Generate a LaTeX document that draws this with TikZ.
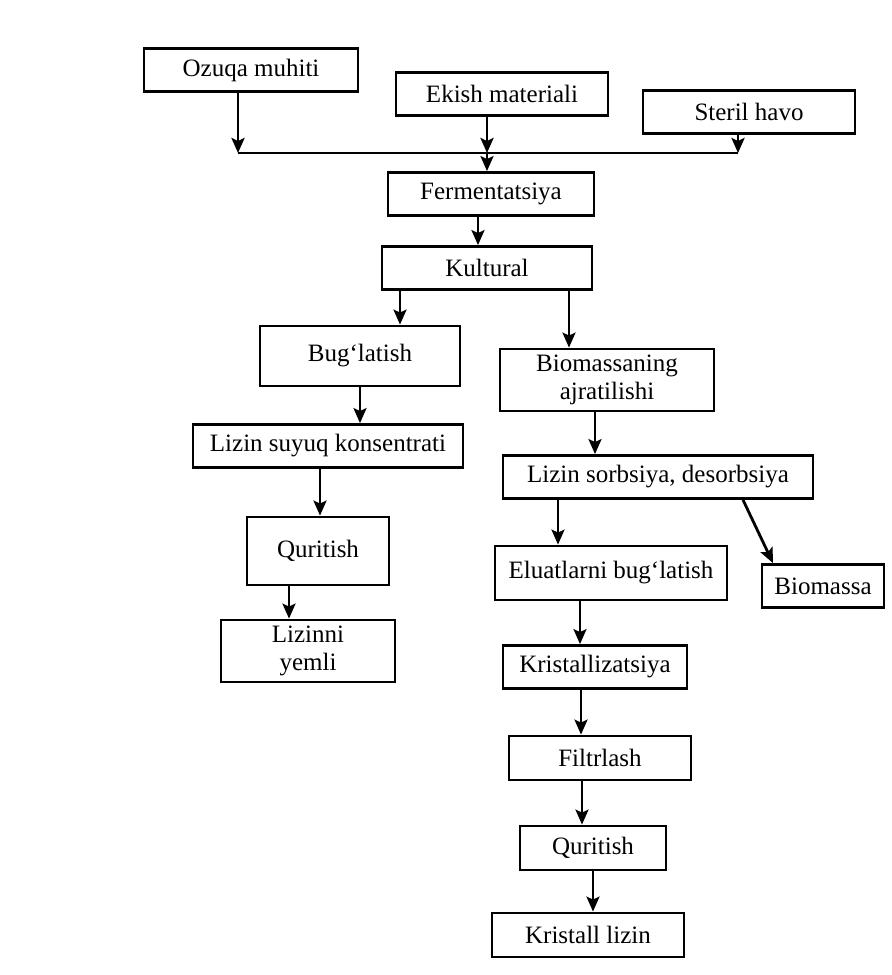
\documentclass[tikz,border=0pt]{standalone}
\usepackage{fontspec}
\setmainfont{Liberation Serif}
\usetikzlibrary{%
  arrows,%
  arrows.meta,%
  positioning,%
  calc%
}

\begin{document}
\begin{tikzpicture}
  [
  x=0.5pt, y=-0.5pt,
  font=\fontsize{12.5}{14}\selectfont, line width=1.4pt, draw=black, >={Stealth[length=7.5pt,width=6.5pt,inset=1.5pt]},
  procnode/.style={rectangle, inner sep=2pt, minimum height=21.5pt, align=center, draw=black, line width=1.4pt},
  ]
  \useasboundingbox (0,0) rectangle (892,975);

  % top row
  \node[procnode, minimum width=107pt] (ozuqa) at (251,70) {Ozuqa muhiti};
  \node[procnode, minimum width=106pt] (ekish) at (502,94) {Ekish materiali};
  \node[procnode, minimum width=106pt] (steril) at (749,112) {Steril havo};

  \coordinate (jl) at (238,153);
  \coordinate (jm) at (487,153);
  \coordinate (jr) at (738,153);

  \node[procnode, minimum width=103pt] (ferm) at (491,194) {Fermentatsiya};
  \node[procnode, minimum width=105pt] (kultural) at (487,268) {Kultural};

  % left branch
  \node[procnode, minimum width=100pt, minimum height=30pt] (buglat) at (360,356) {Bug‘latish};
  \node[procnode, minimum width=135pt] (suyuq) at (328,446) {Lizin suyuq konsentrati};
  \node[procnode, minimum width=71pt, minimum height=34pt] (quritA) at (318,551) {Quritish};
  \node[procnode, minimum width=87pt, minimum height=31pt] (yemli) at (308,651) {Lizinni\\yemli};

  % right branch
  \node[procnode, minimum width=107pt, minimum height=31pt] (ajrat) at (607,380) {Biomassaning\\ajratilishi};
  \node[procnode, minimum width=155pt] (sorb) at (658,477) {Lizin sorbsiya, desorbsiya};
  \node[procnode, minimum width=116pt, minimum height=27pt] (eluat) at (611,573) {Eluatlarni bug‘latish};
  \node[procnode, minimum width=61pt] (biomassa) at (823,586) {Biomassa};
  \node[procnode, minimum width=92pt] (krist) at (595,667) {Kristallizatsiya};
  \node[procnode, minimum width=91pt, minimum height=22pt] (filtr) at (600,758) {Filtrlash};
  \node[procnode, minimum width=73pt, minimum height=22pt] (quritB) at (593,848) {Quritish};
  \node[procnode, minimum width=96pt, minimum height=22pt] (lizin) at (588,935) {Kristall lizin};

  \draw (jl) -- (jr);
  \draw[->] (ozuqa.south -| jl) -- (jl);
  \draw[->] (ekish.south -| jm) -- (jm);
  \draw[->] (steril.south -| jr) -- (jr);
  \draw[->] (jm) -- (ferm.north -| jm);

  \foreach \a/\b/\dx in {ferm/kultural/-6.5, kultural/buglat/-43.5, kultural/ajrat/41,
                         buglat/suyuq/0, ajrat/sorb/-6, suyuq/quritA/-4, quritA/yemli/-14.5,
                         sorb/eluat/-50, eluat/krist/-15.5, krist/filtr/-7, filtr/quritB/-9,
                         quritB/lizin/0} {
    \draw[->] ([xshift=\dx pt]\a.south) -- ([xshift=\dx pt]\a.south |- \b.north);
  }
  \draw[->] ([xshift=42.5pt]sorb.south) -- ([xshift=-25pt]biomassa.north);

\end{tikzpicture}
\end{document}
